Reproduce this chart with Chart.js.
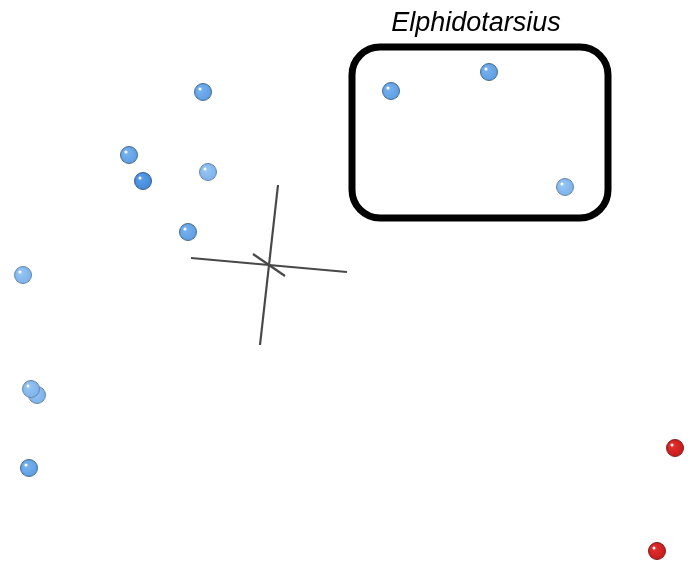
<!DOCTYPE html>
<html lang="en">
<head>
    <meta charset="UTF-8">
    <title>Elphidotarsius ordination</title>
    <script src="https://cdn.jsdelivr.net/npm/chart.js"></script>
    <style>
        html, body { margin: 0; padding: 0; background: #fff; }
        #wrap { width: 690px; height: 561px; }
    </style>
</head>
<body>
    <div id="wrap"><canvas id="ordChart" width="690" height="561"></canvas></div>

    <script>
        // Specimen positions in the projected plot (x right, y down)
        const blueX = [203, 129, 143, 208, 188, 23, 37, 31, 29, 391, 489, 565];
        const blueY = [92, 155, 181, 172, 232, 275, 395, 389, 468, 91, 72, 187];
        const blueShade = ['mid', 'mid', 'dark', 'light', 'mid', 'light', 'light', 'light', 'mid', 'mid', 'mid', 'light'];
        const redX = [675, 657];
        const redY = [448, 551];

        // Projected axis cross (start/end of each axis)
        const axisLines = [
            [[191, 258], [347, 272]],
            [[278, 185], [260, 345]],
            [[253, 254], [285, 276]]
        ];

        // Group box and label
        const groupLabel = 'Elphidotarsius';
        const labelX = 476;
        const labelY = 23;
        const groupBox = { x1: 352, y1: 47, x2: 608, y2: 218 };

        // Little shaded ball sprites for the points
        function makeBall(base, edge) {
            const r = 9, s = 2 * r + 2;
            const c = document.createElement('canvas');
            c.width = s; c.height = s;
            const g = c.getContext('2d');
            const grad = g.createRadialGradient(r - 2, r - 2, 1, r + 1, r + 1, r + 1);
            grad.addColorStop(0, base[0]);
            grad.addColorStop(1, base[1]);
            g.beginPath();
            g.arc(r + 1, r + 1, r - 0.5, 0, Math.PI * 2);
            g.fillStyle = grad;
            g.fill();
            g.lineWidth = 1;
            g.strokeStyle = edge;
            g.stroke();
            g.beginPath();
            g.arc(r - 2, r - 2, 1.5, 0, Math.PI * 2);
            g.fillStyle = '#ffffff';
            g.fill();
            return c;
        }

        const balls = {
            dark: makeBall(['#5a9fe8', '#3d86d8'], '#3a5f88'),
            mid: makeBall(['#7ab3ee', '#579be3'], '#4a6b8f'),
            light: makeBall(['#98c6f3', '#78b0eb'], '#6a86a6'),
            red: makeBall(['#e43030', '#c41818'], '#7a2020')
        };

        const groupBoxPlugin = {
            id: 'groupBox',
            afterDatasetsDraw(chart) {
                const { ctx, scales } = chart;
                const x1 = scales.x.getPixelForValue(groupBox.x1);
                const x2 = scales.x.getPixelForValue(groupBox.x2);
                const y1 = scales.y.getPixelForValue(groupBox.y1);
                const y2 = scales.y.getPixelForValue(groupBox.y2);
                ctx.save();
                ctx.lineWidth = 7;
                ctx.strokeStyle = '#000';
                ctx.beginPath();
                ctx.roundRect(x1, y1, x2 - x1, y2 - y1, 28);
                ctx.stroke();
                ctx.fillStyle = '#000';
                ctx.font = 'italic 27px "Liberation Sans", Arial, sans-serif';
                ctx.textAlign = 'center';
                ctx.textBaseline = 'middle';
                ctx.fillText(groupLabel, scales.x.getPixelForValue(labelX), scales.y.getPixelForValue(labelY));
                ctx.restore();
            }
        };

        const axisSets = axisLines.map(seg => ({
            type: 'line',
            data: seg.map(p => ({ x: p[0], y: p[1] })),
            borderColor: '#484848',
            borderWidth: 2.2,
            pointRadius: 0,
            fill: false,
            order: 3
        }));

        const ctx = document.getElementById('ordChart').getContext('2d');
        new Chart(ctx, {
            type: 'scatter',
            data: {
                datasets: [
                    ...axisSets,
                    {
                        label: 'blue',
                        data: blueX.map((x, i) => ({ x: x, y: blueY[i] })),
                        pointStyle: blueShade.map(s => balls[s]),
                        order: 1
                    },
                    {
                        label: 'red',
                        data: redX.map((x, i) => ({ x: x, y: redY[i] })),
                        pointStyle: balls.red,
                        order: 1
                    }
                ]
            },
            options: {
                responsive: false,
                animation: false,
                clip: false,
                layout: { padding: 0, autoPadding: false },
                plugins: { legend: { display: false }, tooltip: { enabled: false } },
                scales: {
                    x: { type: 'linear', min: 0, max: 690, display: false },
                    y: { type: 'linear', min: 0, max: 561, reverse: true, display: false }
                }
            },
            plugins: [groupBoxPlugin]
        });
    </script>
</body>
</html>
